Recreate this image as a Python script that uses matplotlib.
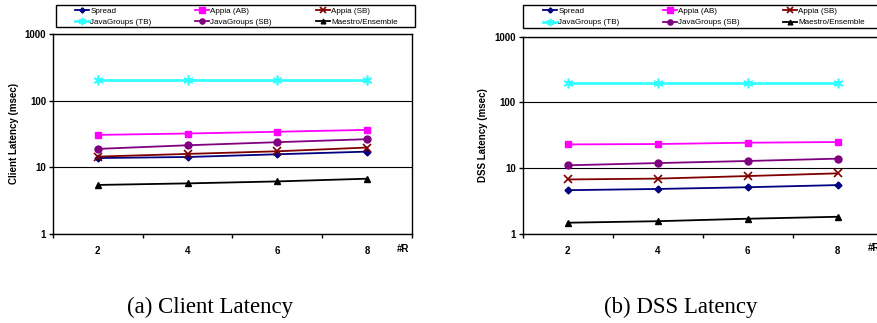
import matplotlib
matplotlib.use('Agg')
import matplotlib.pyplot as plt
from matplotlib.patches import Rectangle
from matplotlib.ticker import FixedLocator, NullFormatter

plt.rcParams['font.family'] = ['Liberation Sans', 'DejaVu Sans']

# data
replicas = ['2', '4', '6', '8']
series_names = ['Spread', 'Appia (AB)', 'Appia (SB)',
                'JavaGroups (TB)', 'JavaGroups (SB)', 'Maestro/Ensemble']

client_spread = [13.7, 14.2, 15.6, 17.1]
client_appia_ab = [30.5, 32.0, 34.0, 36.3]
client_appia_sb = [14.4, 15.8, 17.3, 19.7]
client_jg_tb = [205, 205, 205, 205]
client_jg_sb = [18.8, 21.3, 23.7, 26.3]
client_maestro = [5.4, 5.7, 6.1, 6.7]

dss_spread = [4.6, 4.8, 5.1, 5.5]
dss_appia_ab = [22.9, 23.2, 24.3, 24.9]
dss_appia_sb = [6.7, 6.9, 7.55, 8.3]
dss_jg_tb = [198, 198, 198, 198]
dss_jg_sb = [11.0, 11.9, 12.8, 13.9]
dss_maestro = [1.47, 1.55, 1.69, 1.81]

styles = [
    dict(color='#000080', marker='D', ms=3.5, lw=1.3),
    dict(color='#FF00FF', marker='s', ms=5, lw=1.3),
    dict(color='#800000', marker='x', ms=6, mew=1.2, lw=1.3),
    dict(color='#33FFFF', marker=(6, 2, 0), ms=7, mew=1.2, lw=2.0),
    dict(color='#800080', marker='o', ms=5, lw=1.3),
    dict(color='#000000', marker='^', ms=4.5, lw=1.3),
]

W, H = 878, 323
fig = plt.figure(figsize=(W / 100, H / 100), dpi=100)


def panel(rect, data, ylabel, box, col_x, row_mid, ylab_x, caption, cap_x):
    ax = fig.add_axes(rect)
    x = range(len(replicas))
    handles = []
    for vals, st in zip(data, styles):
        h, = ax.plot(x, vals, mfc=st['color'], mec=st['color'], **st)
        handles.append(h)
    ax.set_yscale('log')
    ax.set_ylim(1, 1000)
    ax.set_xlim(-0.5, 3.5)
    ax.yaxis.set_major_locator(FixedLocator([1, 10, 100, 1000]))
    ax.yaxis.set_minor_locator(FixedLocator([]))
    ax.set_yticklabels(['1', '10', '100', '1000'])
    ax.set_xticks(list(x))
    ax.set_xticklabels(replicas)
    ax.set_xticks([-0.5, 0.5, 1.5, 2.5, 3.5], minor=True)
    ax.xaxis.set_minor_formatter(NullFormatter())
    ax.tick_params(axis='x', which='major', length=0, pad=9)
    ax.tick_params(axis='x', which='minor', length=3, width=1)
    ax.tick_params(axis='y', which='major', length=3, width=1, pad=2)
    for lab in ax.get_xticklabels() + ax.get_yticklabels():
        lab.set_fontsize(7)
        lab.set_fontweight('bold')
    ax.grid(axis='y', which='major', color='black', lw=0.8)
    for sp in ax.spines.values():
        sp.set_color('black')
        sp.set_linewidth(1.0)
    ax.text(0.975, -0.075, '#R', transform=ax.transAxes, ha='center',
            va='center', fontsize=7, fontweight='bold')
    fig.text(ylab_x / W, rect[1] + rect[3] / 2, ylabel, rotation=90,
             ha='center', va='center', fontsize=7, fontweight='bold')

    # legend: one frame, three columns of two entries
    bx0, by0, bx1, by1 = box
    fig.patches.append(Rectangle((bx0 / W, 1 - by1 / H), (bx1 - bx0) / W,
                                 (by1 - by0) / H, transform=fig.transFigure,
                                 fill=True, facecolor='white',
                                 edgecolor='black', lw=1.0, zorder=5))
    for c in range(3):
        idx = [c, c + 3]
        leg = fig.legend([handles[i] for i in idx], [series_names[i] for i in idx],
                         loc='center left',
                         bbox_to_anchor=(col_x[c] / W, 1 - row_mid / H),
                         borderaxespad=0, borderpad=0, frameon=False,
                         fontsize=5.8, handlelength=1.75, handletextpad=0.15,
                         labelspacing=0.42, markerscale=0.75)
        leg.set_zorder(6)

    fig.text(cap_x / W, 1 - 307 / H, caption, ha='center', va='center',
             fontsize=16.5, family=['Liberation Serif', 'DejaVu Serif'])
    return ax


client = [client_spread, client_appia_ab, client_appia_sb,
          client_jg_tb, client_jg_sb, client_maestro]
dss = [dss_spread, dss_appia_ab, dss_appia_sb,
       dss_jg_tb, dss_jg_sb, dss_maestro]

panel([53 / W, 1 - 233.7 / H, 359 / W, 199.7 / H], client,
      'Client Latency (msec)', (56, 5, 415, 27), (75, 195, 316), 16.7, 14,
      '(a) Client Latency', 210)
panel([522.7 / W, 1 - 233.7 / H, 360 / W, 197 / H], dss,
      'DSS Latency (msec)', (523, 5, 890, 28), (543, 663, 783), 17.0, 483,
      '(b) DSS Latency', 681)

fig.savefig('out.png', dpi=100)
